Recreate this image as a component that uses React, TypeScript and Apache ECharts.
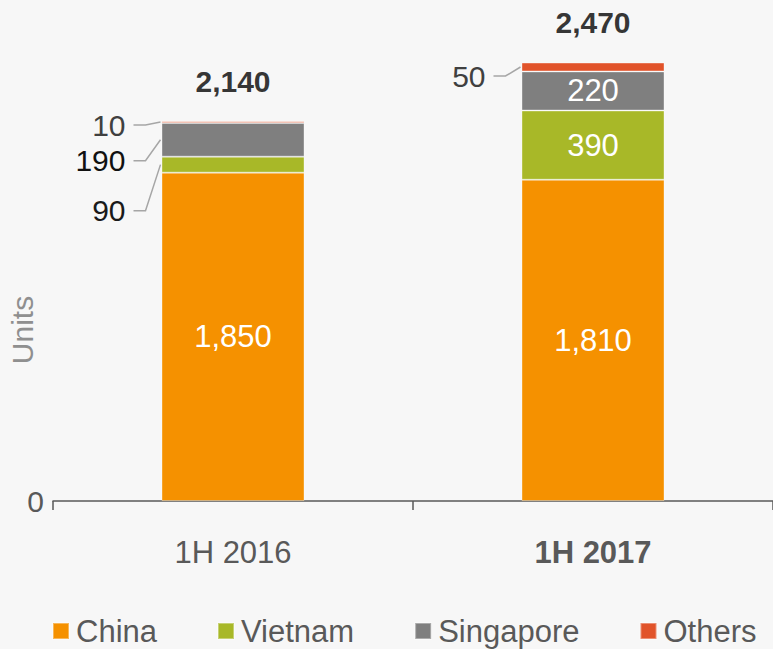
import React, { useEffect, useRef } from "react";
import * as echarts from "echarts";

const categories = ["1H 2016", "1H 2017"];
const seriesNames = ["China", "Vietnam", "Singapore", "Others"];
const china = [1850, 1810];
const vietnam = [90, 390];
const singapore = [190, 220];
const others = [10, 50];
const totals = [2140, 2470];
const yTickLabels = ["0"];

const colors = ["#F59100", "#A8B828", "#7F7F7F", "#E1532A"];
const FONT = "'Liberation Sans', Arial, sans-serif";
const BAR_W = 143;
const OUTSIDE_THRESHOLD = 200;
// vertical offsets (px) of outside labels relative to their segment middle
const outsideDy: Record<string, number> = { "0-1": 46, "0-2": 21, "0-3": 3, "1-3": 9 };
const outsideColor: Record<string, string> = { "0-1": "#1a1a1a", "0-2": "#111111", "0-3": "#404040", "1-3": "#404040" };

const fmt = (v: number) => v.toLocaleString("en-US");

export default function App() {
  const ref = useRef<HTMLDivElement>(null);
  useEffect(() => {
    document.body.style.margin = "0";
    document.body.style.background = "#F7F7F7";
    const chart = echarts.init(ref.current!, undefined, { renderer: "svg" });
    const data = [china, vietnam, singapore, others];
    const series: any[] = data.map((vals, si) => ({
      name: seriesNames[si],
      type: "bar",
      stack: "total",
      barWidth: BAR_W,
      itemStyle: { color: colors[si], borderColor: "rgba(255,255,255,0.35)", borderWidth: 1 },
      label: {
        show: true,
        position: "inside",
        color: "#ffffff",
        fontSize: 31,
        fontFamily: FONT,
        formatter: (p: any) => (p.value >= OUTSIDE_THRESHOLD ? fmt(p.value) : ""),
      },
      data: vals,
    }));
    series.push({
      name: "Total",
      type: "scatter",
      symbolSize: 0,
      itemStyle: { color: "transparent" },
      label: {
        show: true,
        position: "top",
        distance: 25,
        color: "#000000",
        fontWeight: "bold",
        fontSize: 30,
        fontFamily: FONT,
        formatter: (p: any) => fmt(p.value),
      },
      data: totals,
    });
    chart.setOption({
      animation: false,
      backgroundColor: "#F7F7F7",
      textStyle: { fontFamily: FONT },
      grid: { left: 53, right: 0, top: 4, bottom: 148, containLabel: false },
      legend: {
        data: seriesNames,
        left: 52,
        top: 615,
        padding: 0,
        itemWidth: 16,
        itemHeight: 16,
        itemGap: 60,
        icon: "rect",
        textStyle: { fontSize: 31, lineHeight: 32, color: "#595959", fontFamily: FONT, padding: [0, 0, 0, 2] },
      },
      xAxis: {
        type: "category",
        data: categories,
        axisLine: { lineStyle: { color: "#595959", width: 1.5 } },
        axisTick: { show: true, length: 9, alignWithLabel: false, lineStyle: { color: "#595959", width: 1.5 } },
        axisLabel: {
          margin: 36,
          fontSize: 31,
          color: "#595959",
          fontFamily: FONT,
          formatter: (v: string, i: number) => (i === 1 ? "{b|" + v + "}" : v),
          rich: { b: { fontWeight: "bold", fontSize: 31, color: "#595959", fontFamily: FONT } },
        },
      },
      yAxis: {
        type: "value",
        min: 0,
        max: 2800,
        interval: 2800,
        splitLine: { show: false },
        axisLine: { show: false },
        axisTick: { show: false },
        axisLabel: {
          margin: 9,
          fontSize: 30,
          color: "#595959",
          fontFamily: FONT,
          formatter: (v: number) => (v === 0 ? yTickLabels[0] : ""),
        },
      },
      series,
    });

    const graphics: any[] = [];
    for (let si = 0; si < data.length; si++) {
      for (let ci = 0; ci < categories.length; ci++) {
        const v = data[si][ci];
        if (v >= OUTSIDE_THRESHOLD) continue;
        let base = 0;
        for (let k = 0; k < si; k++) base += data[k][ci];
        const p = chart.convertToPixel({ xAxisIndex: 0, yAxisIndex: 0 }, [ci, base + v / 2]) as number[];
        const key = ci + "-" + si;
        const barLeft = p[0] - BAR_W / 2;
        const ly = p[1] + (outsideDy[key] ?? 0);
        graphics.push({
          type: "polyline",
          shape: { points: [[barLeft - 28, ly], [barLeft - 16, ly], [barLeft - 1, p[1]]] },
          style: { stroke: "#A6A6A6", lineWidth: 1.5, fill: null },
          silent: true,
        });
        graphics.push({
          type: "text",
          x: barLeft - 36,
          y: ly,
          style: {
            text: fmt(v),
            fontSize: 30,
            fontFamily: FONT,
            fill: outsideColor[key] ?? "#333",
            align: "right",
            verticalAlign: "middle",
          },
          silent: true,
        });
      }
    }
    graphics.push({
      type: "text",
      x: 22,
      y: 330,
      rotation: Math.PI / 2,
      style: {
        text: "Units",
        fontSize: 30,
        fontFamily: FONT,
        fill: "#8F8F8F",
        align: "center",
        verticalAlign: "middle",
      },
      silent: true,
    });
    chart.setOption({ graphic: graphics });
    return () => chart.dispose();
  }, []);
  return <div ref={ref} style={{ width: 773, height: 649, background: "#F7F7F7" }} />;
}
